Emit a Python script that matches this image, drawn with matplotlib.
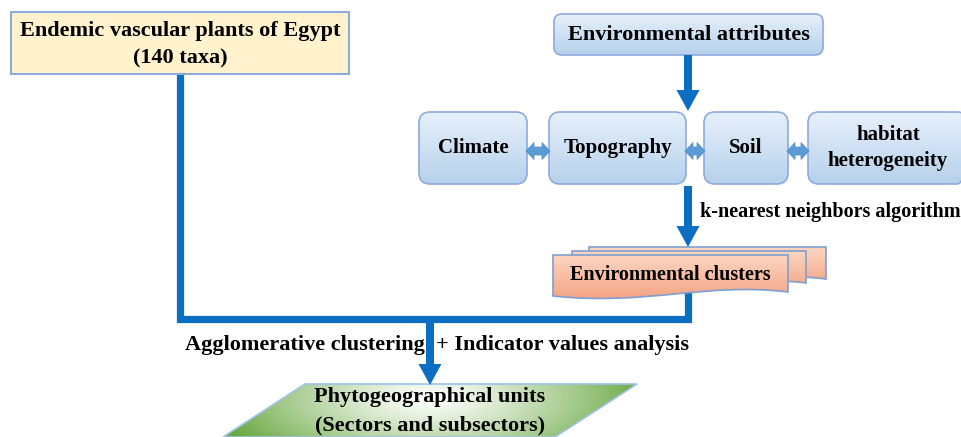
import numpy as np
import matplotlib
matplotlib.use('Agg')
import matplotlib.pyplot as plt
from matplotlib.patches import FancyBboxPatch, Polygon, FancyArrow, PathPatch, Rectangle
from matplotlib.path import Path

# Text content of the flowchart
source_lines = ['Endemic vascular plants of Egypt', '(140 taxa)']
attr_title = 'Environmental attributes'
attributes = ['Climate', 'Topography', 'Soil', 'habitat\nheterogeneity']
knn_label = 'k-nearest neighbors algorithm'
cluster_label = 'Environmental clusters'
method_label = 'Agglomerative clustering  + Indicator values analysis'
result_lines = ['Phytogeographical units', '(Sectors and subsectors)']

plt.rcParams['font.family'] = ['Liberation Serif', 'DejaVu Serif']
FS = 16
BLUE = '#0A6FC2'
EDGE = '#8EAADB'

fig = plt.figure(figsize=(9.62, 4.37), dpi=100)
ax = fig.add_axes([0, 0, 1, 1])
ax.set_xlim(0, 962)
ax.set_ylim(437, 0)
ax.axis('off')


def gradient_fill(patch, x0, x1, y0, y1, c_top, c_bot, z=2):
    ax.add_patch(patch)
    t = np.linspace(0, 1, 64)[:, None, None]
    a = np.array(matplotlib.colors.to_rgb(c_top))
    b = np.array(matplotlib.colors.to_rgb(c_bot))
    img = a * (1 - t) + b * t
    im = ax.imshow(img, extent=(x0, x1, y1, y0), origin='upper', aspect='auto',
                   zorder=z, interpolation='bilinear')
    im.set_clip_path(patch)


def round_box(x0, x1, y0, y1, text, r=9, fs=15):
    p = FancyBboxPatch((x0, y0), x1 - x0, y1 - y0,
                       boxstyle=f'round,pad=0,rounding_size={r}',
                       facecolor='none', edgecolor=EDGE, lw=1.2, zorder=3)
    gradient_fill(p, x0, x1, y0, y1, '#E6F0FA', '#B7D1EC')
    ax.text((x0 + x1) / 2, (y0 + y1) / 2, text, ha='center', va='center',
            fontsize=fs, fontweight='bold', zorder=10, linespacing=1.4)


def double_arrow(x0, x1, y, w=8, hw=17, hl=8):
    pts = [(x0, y), (x0 + hl, y - hw / 2), (x0 + hl, y - w / 2), (x1 - hl, y - w / 2),
           (x1 - hl, y - hw / 2), (x1, y), (x1 - hl, y + hw / 2), (x1 - hl, y + w / 2),
           (x0 + hl, y + w / 2), (x0 + hl, y + hw / 2)]
    ax.add_patch(Polygon(pts, closed=True, facecolor='#5B9BD5', edgecolor='#4F8CC9',
                         lw=0.5, zorder=6))


def down_arrow(x, y0, y1):
    ax.add_patch(FancyArrow(x, y0, 0, y1 - y0, width=8, head_width=23, head_length=21,
                            length_includes_head=True, color=BLUE, lw=0, zorder=12))


# connecting lines (drawn first, under boxes)
ax.plot([180, 180, 688, 688], [74, 318.5, 318.5, 290], color=BLUE, lw=5.2,
        solid_joinstyle='miter', solid_capstyle='butt', zorder=1)

# source box
ax.add_patch(Rectangle((11, 12), 338, 62, facecolor='#FFF2CC', edgecolor=EDGE, lw=1.5, zorder=3))
ax.text(180, 31, source_lines[0], ha='center', va='center', fontsize=FS, fontweight='bold', zorder=10)
ax.text(180, 58, source_lines[1], ha='center', va='center', fontsize=FS, fontweight='bold', zorder=10)

# environmental attributes
round_box(554, 823, 14, 55, attr_title, r=8, fs=16)
down_arrow(688, 55, 111)

xs = [(419, 527), (549, 686), (704, 788), (808, 968)]
for (a, b), lab in zip(xs, attributes):
    round_box(a, b, 112, 184, lab, r=11)
for i in range(3):
    double_arrow(xs[i][1] - 1, xs[i + 1][0] + 1, 151)

# knn arrow
down_arrow(688, 186, 247)
ax.text(700, 212, knn_label, ha='left', va='center', fontsize=14.5, fontweight='bold', zorder=10)


# stacked documents
def doc_path(x0, x1, y0, yb):
    w = x1 - x0
    verts = [(x0, y0), (x1, y0), (x1, yb - 4),
             (x1 - w * 0.35, yb - 14), (x0 + w * 0.4, yb + 10), (x0, yb),
             (x0, y0)]
    codes = [Path.MOVETO, Path.LINETO, Path.LINETO,
             Path.CURVE4, Path.CURVE4, Path.CURVE4, Path.CLOSEPOLY]
    return Path(verts, codes)


for i, (a, b, top, bot) in enumerate([(589, 826, 247, 283), (572, 806, 251, 287), (553, 788, 255, 296)]):
    p = PathPatch(doc_path(a, b, top, bot), facecolor='none', edgecolor='#7F9FD0', lw=1.2,
                  zorder=3 + 2 * i)
    gradient_fill(p, a, b, top, bot + 10, '#FCD6C2', '#F29C7A', z=2 + 2 * i)
ax.text(670, 275, cluster_label, ha='center', va='center', fontsize=14.5, fontweight='bold', zorder=10)

# method label and final arrow
ax.text(437, 345, method_label, ha='center', va='center', fontsize=FS, fontweight='bold', zorder=10)
down_arrow(430, 318, 385)

# parallelogram with radial green gradient
para = Polygon([(305, 384), (637, 384), (555, 437), (223, 437)], closed=True,
               facecolor='none', edgecolor='#9DC3E6', lw=1.2, zorder=3)
ax.add_patch(para)
gx, gy = np.meshgrid(np.linspace(223, 637, 200), np.linspace(384, 437, 60))
d = np.clip(np.sqrt(((gx - 430) / 220) ** 2 + ((gy - 398) / 80) ** 2), 0, 1) ** 1.2
g1 = np.array(matplotlib.colors.to_rgb('#FFFFFF'))
g2 = np.array(matplotlib.colors.to_rgb('#6AA842'))
img = g1 * (1 - d[..., None]) + g2 * d[..., None]
im = ax.imshow(img, extent=(223, 637, 437, 384), origin='upper', aspect='auto', zorder=2,
               interpolation='bilinear')
im.set_clip_path(para)
ax.text(430, 397, result_lines[0], ha='center', va='center', fontsize=FS, fontweight='bold', zorder=10)
ax.text(430, 425, result_lines[1], ha='center', va='center', fontsize=FS, fontweight='bold', zorder=10)

ax.set_xlim(0, 962)
ax.set_ylim(437, 0)
fig.savefig('out.png', dpi=100, facecolor='white')
